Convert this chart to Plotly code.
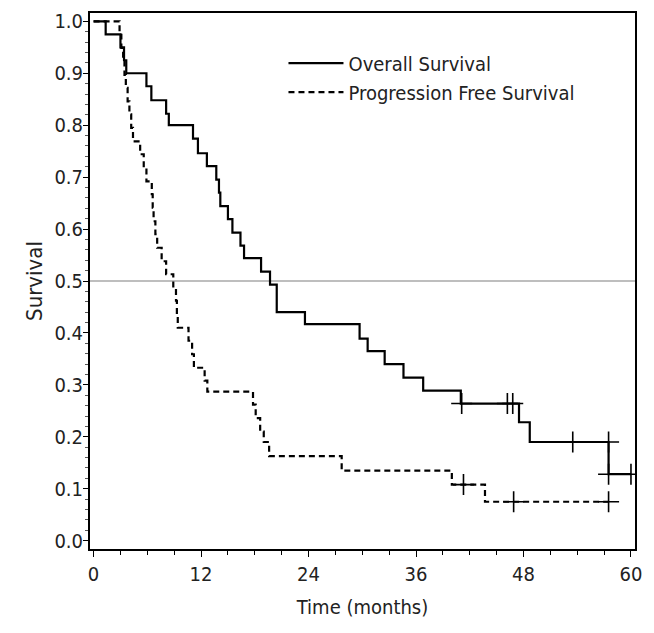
import plotly.graph_objects as go

# ---- data ----
os_times = [0, 1.35, 3.0, 3.4, 3.65, 5.9, 6.45, 8.1, 8.4, 11.1,
            11.65, 12.65, 13.7, 14.0, 14.15, 15.0, 15.5, 16.4, 16.8, 18.7,
            19.7, 20.45, 23.6, 29.7, 30.6, 32.5, 34.6, 36.8, 41.0, 47.5,
            48.7, 57.5, 60.0]
os_surv = [1.0, 0.975, 0.95, 0.925, 0.90, 0.875, 0.848, 0.822, 0.80, 0.774,
           0.746, 0.721, 0.695, 0.670, 0.644, 0.619, 0.593, 0.568, 0.544, 0.518,
           0.493, 0.440, 0.417, 0.389, 0.365, 0.340, 0.314, 0.289, 0.264, 0.228,
           0.190, 0.128, 0.128]
os_cens_t = [41.1, 46.2, 46.8, 53.5, 57.5, 57.5, 60.0]
os_cens_s = [0.264, 0.264, 0.264, 0.190, 0.190, 0.128, 0.128]

pfs_times = [0, 2.9, 3.1, 3.3, 3.45, 3.6, 3.8, 4.0, 4.2, 4.4,
             5.2, 5.6, 5.9, 6.5, 6.6, 6.7, 6.9, 7.1, 7.6, 8.1,
             8.9, 9.2, 9.3, 9.4, 10.6, 11.0, 11.2, 12.4, 12.7, 17.8,
             18.1, 18.6, 19.0, 19.6, 27.7, 40.0, 43.7, 57.5]
pfs_surv = [1.0, 0.974, 0.949, 0.923, 0.897, 0.872, 0.846, 0.821, 0.795, 0.769,
            0.744, 0.718, 0.692, 0.667, 0.641, 0.615, 0.590, 0.564, 0.538, 0.513,
            0.487, 0.462, 0.436, 0.410, 0.385, 0.359, 0.333, 0.308, 0.287, 0.262,
            0.236, 0.21, 0.19, 0.163, 0.135, 0.108, 0.075, 0.075]
pfs_cens_t = [41.3, 46.9, 57.5]
pfs_cens_s = [0.108, 0.075, 0.075]

x_ticks = [0, 12, 24, 36, 48, 60]
y_ticks = [0.0, 0.1, 0.2, 0.3, 0.4, 0.5, 0.6, 0.7, 0.8, 0.9, 1.0]

FONT = "Liberation Sans Narrow, DejaVu Sans Condensed, Open Sans"
fig = go.Figure()

fig.add_trace(go.Scatter(x=os_times, y=os_surv, mode="lines", line_shape="hv",
                         line=dict(color="black", width=2.2), name="Overall Survival"))
fig.add_trace(go.Scatter(x=pfs_times, y=pfs_surv, mode="lines", line_shape="hv",
                         line=dict(color="black", width=2.2, dash="6px,4px"),
                         name="Progression Free Survival"))
fig.add_trace(go.Scatter(x=os_cens_t, y=os_cens_s, mode="markers", showlegend=False,
                         marker=dict(symbol="cross-thin", size=15,
                                     line=dict(color="black", width=1.6))))
fig.add_trace(go.Scatter(x=pfs_cens_t, y=pfs_cens_s, mode="markers", showlegend=False,
                         marker=dict(symbol="cross-thin", size=15,
                                     line=dict(color="black", width=1.6))))

fig.add_hline(y=0.5, line=dict(color="#a8a8a8", width=1.3), layer="below")

fig.update_layout(
    width=654, height=633,
    margin=dict(l=90, r=19, t=9, b=84),
    paper_bgcolor="white", plot_bgcolor="white",
    font=dict(family=FONT, size=20, color="#222"),
    showlegend=True,
    legend=dict(x=0.355, y=0.943, xanchor="left", yanchor="top",
                bgcolor="rgba(0,0,0,0)", font=dict(size=20, color="#222"),
                itemwidth=55, tracegroupgap=0),
)
fig.update_xaxes(range=[-0.4, 60.45], tickvals=x_ticks, ticktext=[str(v) for v in x_ticks],
                 ticks="outside", ticklen=6, tickwidth=1.3, tickcolor="black",
                 showline=True, linewidth=2, linecolor="black", mirror=True,
                 showgrid=False, zeroline=False,
                 minor=dict(dtick=3, ticks="outside", ticklen=4, tickcolor="black", showgrid=False),
                 title=dict(text="Time (months)", standoff=15, font=dict(size=20)),
                 tickfont=dict(size=20))
fig.update_yaxes(range=[-0.016, 1.016], tickvals=y_ticks, ticktext=[f"{v:.1f}" for v in y_ticks],
                 ticks="outside", ticklen=5, tickwidth=1.3, tickcolor="black",
                 showline=True, linewidth=2, linecolor="black", mirror=True,
                 showgrid=False, zeroline=False, ticklabelstandoff=-4,
                 minor=dict(dtick=0.02, ticks="outside", ticklen=3, tickcolor="#555", showgrid=False),
                 title=dict(text="Survival", standoff=6, font=dict(size=22)),
                 tickfont=dict(size=20))

fig.write_html("out.html")
